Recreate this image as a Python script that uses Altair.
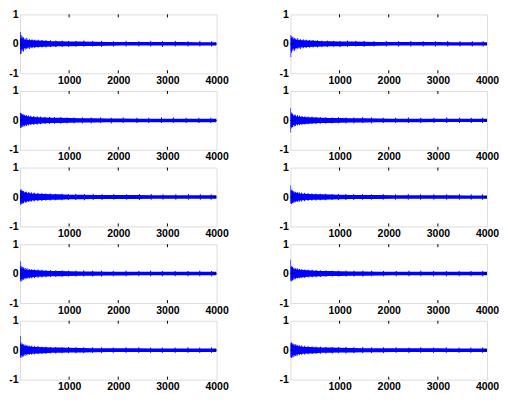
import altair as alt
import pandas as pd

# ---------------- axis values ----------------
x_domain = [0, 4000]
y_domain = [-1, 1]
x_tick_labels = [1000, 2000, 3000, 4000]
y_tick_labels = [-1, 0, 1]
inner_x_ticks = [1000, 2000, 3000]
inner_y_ticks = [0]

# ---------------- signal envelopes ----------------
env_x = [0, 30, 80, 150, 250, 350, 500, 650, 800, 1000, 1250, 1500, 1800,
         2100, 2400, 2700, 3000, 3300, 3600, 3850, 4000]

env_hi = [
    [0.22, 0.20, 0.15, 0.13, 0.12, 0.11, 0.10, 0.09, 0.09, 0.08, 0.075, 0.07, 0.065, 0.065, 0.06, 0.06, 0.06, 0.06, 0.055, 0.055, 0.055],
    [0.20, 0.19, 0.15, 0.13, 0.12, 0.11, 0.10, 0.09, 0.085, 0.08, 0.075, 0.07, 0.065, 0.06, 0.06, 0.06, 0.06, 0.055, 0.055, 0.055, 0.055],
    [0.21, 0.20, 0.16, 0.14, 0.12, 0.11, 0.10, 0.09, 0.09, 0.08, 0.075, 0.07, 0.065, 0.065, 0.06, 0.06, 0.06, 0.06, 0.06, 0.06, 0.06],
    [0.22, 0.19, 0.15, 0.13, 0.12, 0.11, 0.10, 0.09, 0.085, 0.08, 0.075, 0.07, 0.065, 0.06, 0.06, 0.06, 0.06, 0.055, 0.055, 0.055, 0.055],
    [0.21, 0.20, 0.16, 0.14, 0.12, 0.11, 0.10, 0.09, 0.09, 0.08, 0.075, 0.07, 0.07, 0.065, 0.065, 0.06, 0.06, 0.06, 0.06, 0.06, 0.06],
    [0.22, 0.18, 0.15, 0.13, 0.11, 0.10, 0.095, 0.09, 0.085, 0.08, 0.07, 0.07, 0.065, 0.06, 0.06, 0.06, 0.06, 0.06, 0.055, 0.055, 0.055],
    [0.22, 0.19, 0.15, 0.13, 0.12, 0.11, 0.10, 0.09, 0.09, 0.08, 0.075, 0.07, 0.065, 0.065, 0.06, 0.06, 0.06, 0.06, 0.06, 0.06, 0.06],
    [0.22, 0.19, 0.15, 0.14, 0.12, 0.11, 0.10, 0.09, 0.085, 0.08, 0.075, 0.07, 0.065, 0.06, 0.06, 0.06, 0.065, 0.06, 0.06, 0.06, 0.06],
    [0.22, 0.19, 0.15, 0.13, 0.12, 0.11, 0.10, 0.09, 0.09, 0.08, 0.075, 0.07, 0.065, 0.065, 0.065, 0.06, 0.06, 0.06, 0.06, 0.06, 0.06],
    [0.21, 0.20, 0.16, 0.14, 0.12, 0.11, 0.10, 0.09, 0.09, 0.08, 0.075, 0.07, 0.07, 0.065, 0.065, 0.065, 0.065, 0.06, 0.06, 0.06, 0.06],
]

env_lo = [
    [-0.20, -0.19, -0.15, -0.13, -0.12, -0.11, -0.10, -0.09, -0.085, -0.08, -0.075, -0.07, -0.065, -0.06, -0.06, -0.06, -0.06, -0.055, -0.055, -0.055, -0.055],
    [-0.24, -0.20, -0.15, -0.13, -0.12, -0.11, -0.10, -0.09, -0.085, -0.08, -0.07, -0.07, -0.065, -0.06, -0.06, -0.06, -0.055, -0.055, -0.055, -0.055, -0.055],
    [-0.20, -0.19, -0.16, -0.14, -0.12, -0.11, -0.10, -0.09, -0.09, -0.08, -0.075, -0.07, -0.065, -0.065, -0.06, -0.06, -0.06, -0.06, -0.06, -0.06, -0.06],
    [-0.22, -0.19, -0.15, -0.13, -0.12, -0.11, -0.10, -0.09, -0.085, -0.08, -0.07, -0.07, -0.065, -0.06, -0.06, -0.06, -0.055, -0.055, -0.055, -0.055, -0.055],
    [-0.21, -0.19, -0.16, -0.14, -0.12, -0.11, -0.10, -0.09, -0.09, -0.08, -0.075, -0.07, -0.065, -0.065, -0.065, -0.06, -0.06, -0.06, -0.06, -0.06, -0.06],
    [-0.20, -0.18, -0.15, -0.13, -0.11, -0.10, -0.095, -0.09, -0.085, -0.08, -0.07, -0.07, -0.065, -0.06, -0.06, -0.06, -0.06, -0.055, -0.055, -0.055, -0.055],
    [-0.21, -0.19, -0.15, -0.14, -0.12, -0.11, -0.10, -0.09, -0.09, -0.08, -0.075, -0.07, -0.065, -0.065, -0.06, -0.06, -0.06, -0.06, -0.06, -0.06, -0.06],
    [-0.21, -0.19, -0.15, -0.14, -0.12, -0.11, -0.10, -0.09, -0.085, -0.08, -0.075, -0.07, -0.065, -0.06, -0.06, -0.06, -0.06, -0.06, -0.06, -0.06, -0.06],
    [-0.20, -0.18, -0.15, -0.13, -0.12, -0.11, -0.10, -0.09, -0.085, -0.08, -0.075, -0.07, -0.065, -0.065, -0.06, -0.06, -0.06, -0.06, -0.06, -0.06, -0.06],
    [-0.21, -0.20, -0.16, -0.14, -0.12, -0.11, -0.10, -0.09, -0.09, -0.08, -0.075, -0.07, -0.07, -0.065, -0.065, -0.065, -0.06, -0.06, -0.06, -0.06, -0.06],
]

# ---------------- individual spikes ----------------
spike_x = [
    [4, 22, 45, 70, 105, 140, 190, 245, 300, 370, 450, 530, 620, 730, 860, 990, 1140, 1300, 1480, 1660, 1900, 2160, 2420, 2660, 2900, 3160, 3420, 3660, 3900],
    [6, 25, 50, 80, 110, 150, 200, 260, 320, 390, 460, 550, 640, 750, 880, 1010, 1160, 1330, 1500, 1700, 1950, 2200, 2450, 2700, 2950, 3200, 3450, 3700, 3920],
    [5, 20, 40, 65, 95, 130, 170, 220, 280, 350, 420, 510, 600, 700, 830, 960, 1100, 1270, 1450, 1640, 1860, 2100, 2380, 2620, 2880, 3120, 3380, 3640, 3880],
    [3, 18, 42, 75, 100, 145, 185, 235, 295, 360, 440, 520, 610, 720, 850, 980, 1130, 1290, 1470, 1650, 1890, 2140, 2400, 2650, 2920, 3180, 3440, 3680, 3910],
    [5, 24, 48, 72, 108, 135, 180, 230, 290, 365, 445, 525, 615, 725, 855, 985, 1135, 1310, 1490, 1670, 1910, 2170, 2430, 2670, 2910, 3170, 3430, 3670, 3890],
    [3, 20, 44, 68, 98, 138, 178, 228, 288, 358, 438, 518, 608, 718, 848, 978, 1128, 1288, 1468, 1648, 1888, 2138, 2398, 2648, 2918, 3178, 3438, 3678, 3908],
    [3, 22, 46, 74, 104, 142, 188, 238, 298, 368, 448, 528, 618, 728, 858, 988, 1138, 1298, 1478, 1658, 1898, 2158, 2418, 2658, 2898, 3158, 3418, 3658, 3898],
    [3, 19, 43, 71, 101, 139, 183, 233, 293, 363, 443, 523, 613, 723, 853, 983, 1133, 1293, 1473, 1653, 1893, 2153, 2413, 2653, 2913, 3173, 3433, 3673, 3913],
    [3, 21, 47, 69, 103, 141, 187, 237, 297, 367, 447, 527, 617, 727, 857, 987, 1137, 1297, 1477, 1657, 1897, 2157, 2417, 2657, 2897, 3157, 3417, 3657, 3897],
    [5, 23, 49, 73, 107, 137, 181, 231, 291, 361, 441, 521, 611, 721, 851, 981, 1131, 1291, 1471, 1651, 1891, 2151, 2411, 2651, 2911, 3171, 3431, 3671, 3911],
]

spike_hi = [
    [0.40, 0.30, 0.25, 0.22, 0.18, 0.20, 0.16, 0.15, 0.14, 0.14, 0.13, 0.12, 0.12, 0.11, 0.11, 0.10, 0.10, 0.11, 0.10, 0.10, 0.09, 0.10, 0.09, 0.10, 0.09, 0.10, 0.09, 0.10, 0.09],
    [0.30, 0.25, 0.24, 0.20, 0.18, 0.19, 0.16, 0.15, 0.14, 0.13, 0.13, 0.12, 0.11, 0.11, 0.10, 0.10, 0.11, 0.10, 0.10, 0.09, 0.10, 0.09, 0.10, 0.09, 0.09, 0.10, 0.09, 0.09, 0.09],
    [0.26, 0.25, 0.22, 0.21, 0.19, 0.18, 0.17, 0.16, 0.15, 0.14, 0.13, 0.12, 0.12, 0.11, 0.11, 0.10, 0.10, 0.10, 0.10, 0.10, 0.09, 0.10, 0.09, 0.09, 0.10, 0.10, 0.09, 0.09, 0.09],
    [0.42, 0.27, 0.23, 0.20, 0.19, 0.18, 0.16, 0.15, 0.14, 0.13, 0.13, 0.12, 0.11, 0.11, 0.10, 0.11, 0.10, 0.10, 0.11, 0.10, 0.09, 0.09, 0.10, 0.09, 0.09, 0.10, 0.09, 0.09, 0.09],
    [0.24, 0.26, 0.22, 0.20, 0.18, 0.18, 0.17, 0.16, 0.15, 0.14, 0.13, 0.12, 0.12, 0.11, 0.11, 0.10, 0.11, 0.10, 0.11, 0.10, 0.10, 0.09, 0.10, 0.10, 0.09, 0.09, 0.10, 0.09, 0.09],
    [0.39, 0.25, 0.22, 0.20, 0.18, 0.17, 0.16, 0.15, 0.14, 0.13, 0.12, 0.12, 0.11, 0.11, 0.10, 0.10, 0.10, 0.10, 0.10, 0.09, 0.10, 0.09, 0.10, 0.09, 0.09, 0.09, 0.10, 0.09, 0.09],
    [0.42, 0.27, 0.23, 0.21, 0.19, 0.18, 0.16, 0.15, 0.14, 0.14, 0.13, 0.12, 0.12, 0.11, 0.11, 0.10, 0.10, 0.11, 0.10, 0.10, 0.09, 0.10, 0.09, 0.10, 0.09, 0.09, 0.09, 0.10, 0.09],
    [0.47, 0.26, 0.23, 0.20, 0.18, 0.18, 0.16, 0.15, 0.14, 0.13, 0.13, 0.12, 0.11, 0.11, 0.10, 0.10, 0.10, 0.10, 0.10, 0.10, 0.09, 0.09, 0.10, 0.10, 0.09, 0.09, 0.09, 0.09, 0.09],
    [0.48, 0.26, 0.22, 0.20, 0.19, 0.18, 0.16, 0.15, 0.14, 0.14, 0.12, 0.12, 0.11, 0.11, 0.10, 0.11, 0.10, 0.10, 0.10, 0.10, 0.09, 0.10, 0.10, 0.09, 0.09, 0.09, 0.10, 0.09, 0.09],
    [0.25, 0.26, 0.23, 0.21, 0.20, 0.18, 0.17, 0.16, 0.15, 0.14, 0.13, 0.12, 0.12, 0.11, 0.11, 0.11, 0.11, 0.10, 0.11, 0.10, 0.10, 0.10, 0.09, 0.10, 0.09, 0.10, 0.09, 0.09, 0.09],
]

spike_lo = [
    [-0.36, -0.33, -0.24, -0.26, -0.20, -0.18, -0.18, -0.15, -0.14, -0.13, -0.12, -0.12, -0.11, -0.11, -0.11, -0.10, -0.10, -0.10, -0.09, -0.10, -0.09, -0.09, -0.09, -0.09, -0.10, -0.09, -0.09, -0.09, -0.09],
    [-0.45, -0.30, -0.23, -0.24, -0.19, -0.17, -0.18, -0.15, -0.14, -0.13, -0.12, -0.12, -0.11, -0.11, -0.10, -0.11, -0.10, -0.09, -0.10, -0.09, -0.09, -0.09, -0.09, -0.09, -0.09, -0.09, -0.09, -0.09, -0.09],
    [-0.25, -0.26, -0.23, -0.21, -0.20, -0.19, -0.17, -0.16, -0.15, -0.14, -0.13, -0.12, -0.12, -0.11, -0.11, -0.10, -0.10, -0.10, -0.10, -0.09, -0.10, -0.09, -0.09, -0.09, -0.09, -0.09, -0.09, -0.09, -0.09],
    [-0.41, -0.27, -0.23, -0.21, -0.19, -0.17, -0.16, -0.15, -0.14, -0.13, -0.12, -0.12, -0.11, -0.11, -0.10, -0.10, -0.10, -0.10, -0.09, -0.10, -0.09, -0.09, -0.09, -0.09, -0.09, -0.09, -0.09, -0.09, -0.09],
    [-0.26, -0.25, -0.23, -0.21, -0.19, -0.18, -0.17, -0.16, -0.15, -0.14, -0.13, -0.12, -0.12, -0.11, -0.11, -0.10, -0.10, -0.11, -0.10, -0.10, -0.09, -0.09, -0.10, -0.09, -0.09, -0.09, -0.09, -0.09, -0.09],
    [-0.22, -0.24, -0.21, -0.20, -0.18, -0.17, -0.16, -0.15, -0.14, -0.13, -0.12, -0.12, -0.11, -0.11, -0.10, -0.10, -0.10, -0.10, -0.09, -0.09, -0.09, -0.09, -0.09, -0.09, -0.09, -0.09, -0.09, -0.09, -0.09],
    [-0.25, -0.27, -0.23, -0.21, -0.19, -0.18, -0.17, -0.16, -0.15, -0.14, -0.13, -0.12, -0.12, -0.11, -0.11, -0.10, -0.10, -0.10, -0.10, -0.10, -0.09, -0.09, -0.09, -0.09, -0.09, -0.09, -0.09, -0.09, -0.09],
    [-0.25, -0.26, -0.23, -0.21, -0.19, -0.17, -0.16, -0.15, -0.15, -0.13, -0.12, -0.12, -0.11, -0.11, -0.10, -0.10, -0.10, -0.10, -0.10, -0.09, -0.09, -0.09, -0.09, -0.09, -0.09, -0.09, -0.09, -0.09, -0.09],
    [-0.24, -0.26, -0.22, -0.21, -0.19, -0.17, -0.16, -0.15, -0.14, -0.13, -0.12, -0.12, -0.11, -0.11, -0.10, -0.10, -0.10, -0.10, -0.09, -0.10, -0.09, -0.09, -0.09, -0.09, -0.09, -0.09, -0.09, -0.09, -0.09],
    [-0.25, -0.26, -0.24, -0.22, -0.20, -0.19, -0.17, -0.16, -0.15, -0.14, -0.13, -0.12, -0.12, -0.11, -0.11, -0.10, -0.11, -0.10, -0.10, -0.10, -0.10, -0.09, -0.10, -0.09, -0.09, -0.09, -0.09, -0.09, -0.09],
]

# ---------------- styling ----------------
W, H = 197, 59
BLUE = "#0000ff"
FONT = "Liberation Sans"
TICK = 3
LABEL_EXPR = "'' + datum.value"

x_scale = alt.Scale(domain=x_domain, nice=False, zero=False)
y_scale = alt.Scale(domain=y_domain, nice=False)
x_axis = alt.Axis(values=x_tick_labels, ticks=False, domain=False, grid=False,
                  labelPadding=2, labelFlush=False, labelFont=FONT, labelFontSize=10.5,
                  labelFontWeight="bold", labelColor="black", title=None,
                  labelOverlap=False, labelExpr=LABEL_EXPR)
y_axis = alt.Axis(values=y_tick_labels, ticks=False, domain=False, grid=False,
                  labelPadding=2, labelFlush=False, labelFont=FONT, labelFontSize=10.5,
                  labelFontWeight="bold", labelColor="black", title=None,
                  labelOverlap=False, labelExpr=LABEL_EXPR)


def panel(i):
    env = pd.DataFrame({"x": env_x, "hi": env_hi[i], "lo": env_lo[i]})
    spk = pd.DataFrame({"x": spike_x[i], "hi": spike_hi[i], "lo": spike_lo[i]})
    xt = pd.DataFrame({"x": inner_x_ticks})
    yt = pd.DataFrame({"hi": inner_y_ticks})

    X = alt.X("x:Q", scale=x_scale, axis=x_axis)
    Y = alt.Y("hi:Q", scale=y_scale, axis=y_axis)

    band = alt.Chart(env).mark_area(color=BLUE, opacity=1, clip=True).encode(
        x=X, y=Y, y2="lo:Q")
    spikes = alt.Chart(spk).mark_rule(color=BLUE, strokeWidth=1, clip=True).encode(
        x=X, y=Y, y2="lo:Q")
    xt_bot = alt.Chart(xt).mark_rule(color="black", strokeWidth=1).encode(
        x=X, y=alt.value(H - TICK), y2=alt.value(H))
    xt_top = alt.Chart(xt).mark_rule(color="black", strokeWidth=1).encode(
        x=X, y=alt.value(0), y2=alt.value(TICK))
    yt_left = alt.Chart(yt).mark_rule(color="black", strokeWidth=1).encode(
        y=Y, x=alt.value(0), x2=alt.value(TICK))
    yt_right = alt.Chart(yt).mark_rule(color="black", strokeWidth=1).encode(
        y=Y, x=alt.value(W - TICK), x2=alt.value(W))
    return alt.layer(band, spikes, xt_bot, xt_top, yt_left, yt_right).properties(
        width=W, height=H)


panels = [panel(i) for i in range(10)]

chart = alt.concat(*panels, columns=2, spacing={"row": 17.75, "column": 74},
                   bounds="flush").properties(
    padding={"left": 0, "top": 0, "right": 0, "bottom": 0}
).configure_view(stroke="black", strokeWidth=1).configure(background="white")

chart.save("out.html", embed_options={"renderer": "svg", "actions": False})
